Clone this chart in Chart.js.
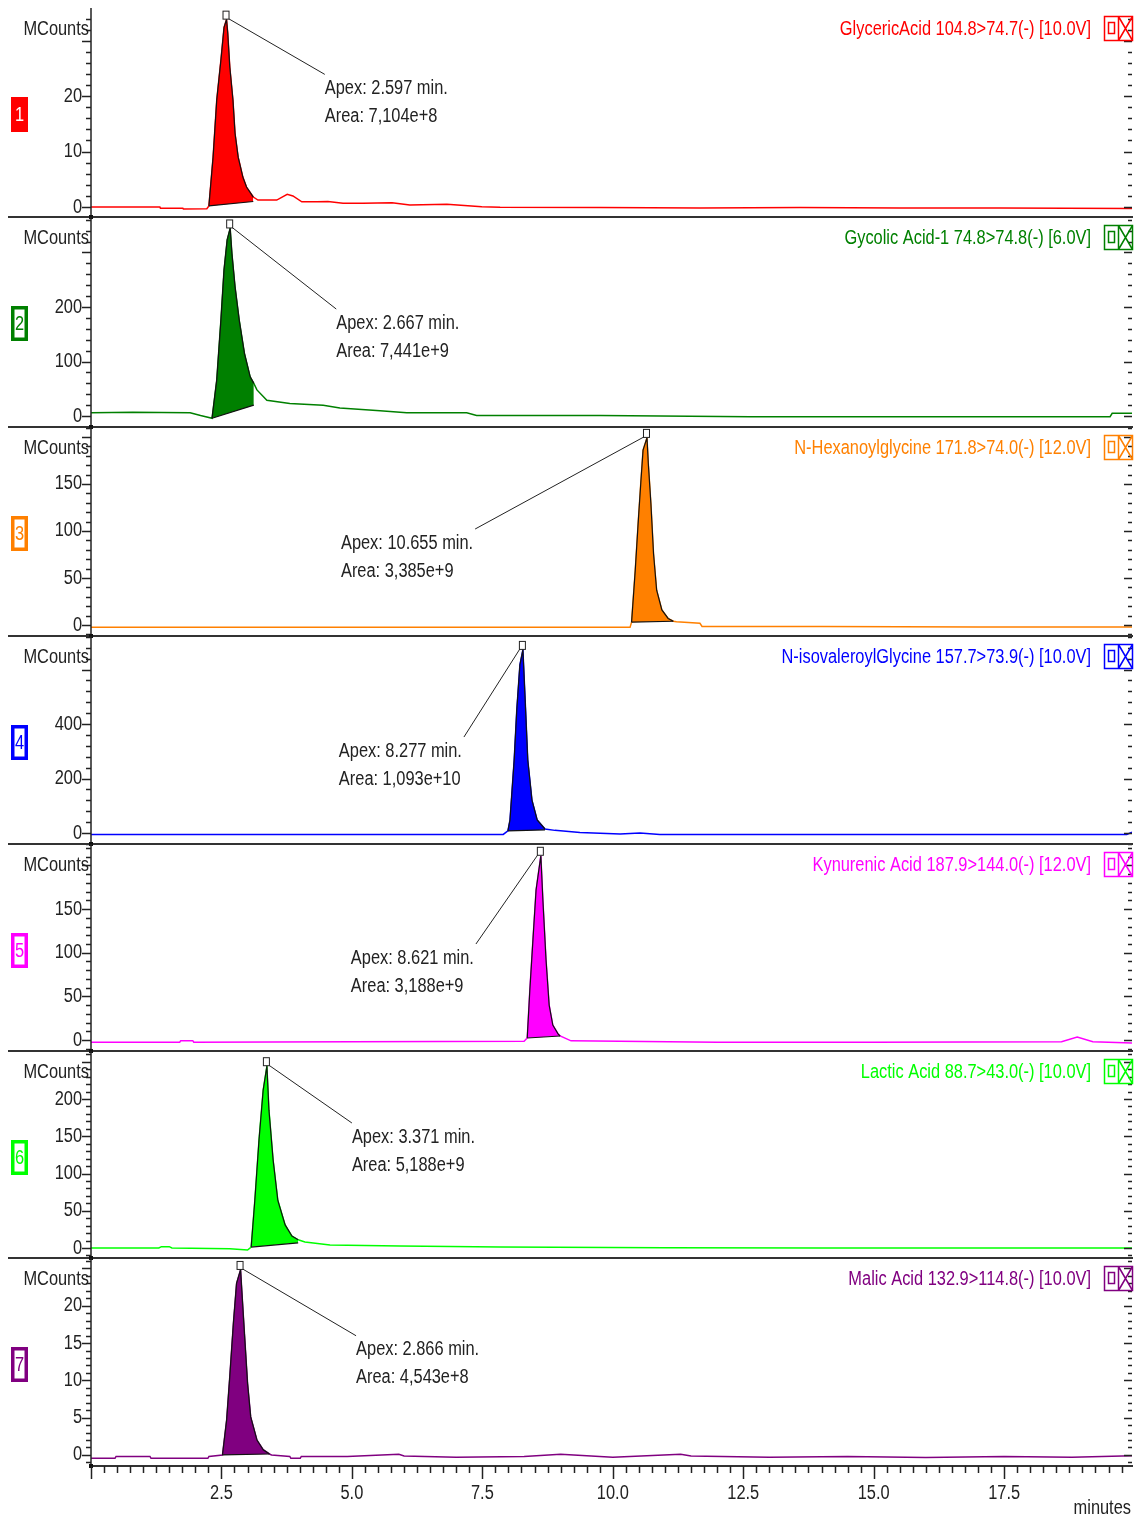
<!DOCTYPE html>
<html>
<head>
<meta charset="utf-8">
<script src="https://cdn.jsdelivr.net/npm/chart.js@4.4.1/dist/chart.umd.min.js"></script>
<style>
  html, body { margin: 0; padding: 0; background: #fff; }
  body { width: 1143px; height: 1517px; position: relative; overflow: hidden; }
  canvas { position: absolute; left: 0; }
</style>
</head>
<body>
<script>
// traces: time (min) / intensity (MCounts)
const glycericT = [0, 1.32, 1.33, 1.76, 1.77, 2.22, 2.26, 2.34, 2.41, 2.49, 2.55, 2.597, 2.62, 2.66, 2.72, 2.76, 2.82, 2.91, 2.98, 3.11, 3.20, 3.56, 3.76, 3.87, 4.04, 4.33, 4.54, 4.83, 5.21, 5.77, 6.11, 6.82, 7.49, 7.84, 9.76, 11.67, 13.59, 15.50, 17.42, 19.95];
const glycericY = [0, 0, -0.2, -0.2, -0.35, -0.3, 0.2, 9.0, 19.3, 26.5, 32.4, 33.8, 31.4, 25.2, 19.3, 13.3, 9.0, 5.4, 3.6, 1.8, 1.26, 1.26, 2.3, 2.0, 0.95, 0.95, 1.0, 0.67, 0.67, 0.75, 0.36, 0.5, 0.05, -0.05, -0.1, -0.18, -0.1, -0.18, -0.18, -0.25];

const glycolicT = [0, 0.8, 1.9, 2.1, 2.32, 2.41, 2.49, 2.55, 2.61, 2.667, 2.70, 2.76, 2.84, 2.94, 3.05, 3.12, 3.18, 3.37, 3.81, 4.45, 4.77, 5.54, 6.05, 7.20, 7.39, 9.76, 12.63, 15.50, 17.42, 19.53, 19.57, 19.95];
const glycolicY = [6, 7, 6, 1, -4, 66, 176, 268, 323, 344, 298, 237, 176, 115, 72, 60, 48, 29, 23, 20, 15, 10, 6, 6, 1, 1, -1, -1, -1, -1, 5, 5];

const hexanoylT = [0, 3.5, 7.0, 10.33, 10.36, 10.43, 10.49, 10.54, 10.58, 10.655, 10.68, 10.73, 10.78, 10.84, 10.94, 11.06, 11.16, 11.22, 11.67, 11.71, 14.0, 17.0, 19.95];
const hexanoylY = [-2.5, -2.5, -2.5, -2.5, 3, 58, 112, 154, 186, 199, 172, 129, 76, 37, 16, 7, 4, 3.5, 1.8, -1.5, -1.5, -2, -2];

const isovalT = [0, 4.0, 7.9, 7.99, 8.03, 8.11, 8.16, 8.22, 8.277, 8.32, 8.37, 8.45, 8.55, 8.70, 8.89, 9.37, 10.14, 10.52, 10.90, 14.0, 17.0, 19.85, 19.95];
const isovalY = [-5, -5, -5, 8, 48, 268, 451, 617, 672, 488, 268, 121, 48, 15, 10, 2, -3, 0, -5, -5, -5, -5, 3];

const kynurT = [0, 1.7, 1.72, 1.95, 1.97, 5.0, 8.3, 8.36, 8.41, 8.47, 8.53, 8.621, 8.66, 8.72, 8.78, 8.85, 8.95, 8.99, 9.2, 12.0, 15.0, 18.6, 18.9, 19.2, 19.95];
const kynurY = [-2.6, -2.6, -0.8, -0.8, -2.6, -2.0, -1.5, 2.3, 57, 115, 172, 211, 160, 92, 40, 17, 7, 4.6, -1, -2.5, -2.5, -2.0, 3.4, -2.0, -3.5];

const lacticT = [0, 1.3, 1.35, 1.5, 1.55, 2.66, 3.0, 3.07, 3.14, 3.22, 3.30, 3.371, 3.41, 3.49, 3.58, 3.72, 3.85, 3.97, 4.10, 4.58, 5.92, 7.84, 11.0, 14.0, 17.0, 19.95];
const lacticY = [0, 0, 1.8, 1.8, 0, -1, -2.7, 1.3, 64, 145, 212, 244, 185, 118, 64, 31, 16, 11, 8, 4, 2.7, 1.5, 0.5, 0, 0, 0];

const malicT = [0, 0.46, 0.48, 1.13, 1.15, 2.24, 2.26, 2.52, 2.60, 2.66, 2.73, 2.79, 2.866, 2.89, 2.94, 3.00, 3.06, 3.18, 3.30, 3.42, 3.46, 3.81, 3.83, 4.01, 4.03, 4.91, 5.9, 6.0, 7.0, 8.3, 9.0, 10.0, 11.3, 11.5, 13.0, 14.5, 16.0, 17.5, 18.8, 19.95];
const malicY = [-0.45, -0.45, -0.2, -0.2, -0.45, -0.45, -0.2, 0, 4.7, 10.5, 17.7, 23, 24.8, 22, 16.3, 9.6, 5.1, 2.0, 0.7, 0.13, 0, -0.2, -0.45, -0.45, -0.2, -0.2, 0.1, -0.15, -0.3, -0.2, 0.1, -0.3, 0.1, -0.15, -0.3, -0.2, -0.35, -0.2, -0.3, -0.1];

const traceTimes = [glycericT, glycolicT, hexanoylT, isovalT, kynurT, lacticT, malicT];
const traceCounts = [glycericY, glycolicY, hexanoylY, isovalY, kynurY, lacticY, malicY];

const compounds = [
  'GlycericAcid 104.8>74.7(-) [10.0V]',
  'Gycolic Acid-1 74.8>74.8(-) [6.0V]',
  'N-Hexanoylglycine 171.8>74.0(-) [12.0V]',
  'N-isovaleroylGlycine 157.7>73.9(-) [10.0V]',
  'Kynurenic Acid 187.9>144.0(-) [12.0V]',
  'Lactic Acid 88.7>43.0(-) [10.0V]',
  'Malic Acid 132.9>114.8(-) [10.0V]'
];
const channelColors = ['#ff0000', '#008000', '#ff8000', '#0000ff', '#ff00ff', '#00ff00', '#800080'];

// integrated peaks
const apexMin = [2.597, 2.667, 10.655, 8.277, 8.621, 3.371, 2.866];
const peakArea = ['7,104e+8', '7,441e+9', '3,385e+9', '1,093e+10', '3,188e+9', '5,188e+9', '4,543e+8'];
const peakFrom = [2.26, 2.32, 10.36, 7.99, 8.36, 3.07, 2.52];
const peakTo = [3.11, 3.12, 11.16, 8.70, 8.99, 3.97, 3.42];
const baseFrom = [0.2, -4, 3, 8, 2.3, 1.3, 0];
const baseTo = [1.0, 20, 4, 12, 4.6, 7, 0.13];

// axes
const yMin = [-1.8, -20, -11.7, -40, -12.6, -13.4, -1.48];
const yMax = [35.9, 365, 210.6, 723, 224.5, 264.4, 26.4];
const yMinor = [2, 20, 10, 40, 10, 10, 1];
const yLabels = [[0, 10, 20], [0, 100, 200], [0, 50, 100, 150], [0, 200, 400], [0, 50, 100, 150], [0, 50, 100, 150, 200], [0, 5, 10, 15, 20]];
const xLabels = [2.5, 5.0, 7.5, 10.0, 12.5, 15.0, 17.5];
const xMinor = 0.25;
const xMax = 19.95;

// page layout
const panelTop = [8, 217, 427, 636, 844, 1051, 1258];
const panelBottom = [217, 427, 636, 844, 1051, 1258, 1466];
const calloutAt = [[4.48, 21.4], [4.70, 170.6], [4.79, 87.2], [4.75, 301], [4.98, 93.9], [5.0, 149], [5.08, 14.1]];

const FONT = '"Liberation Sans Narrow", "Arial Narrow", "Liberation Sans", Arial, sans-serif';
const NARROW = 0.82;   // horizontal squeeze to get the narrow face look
const INK = '#222';

function stepTicks(lo, hi, step) {
  const out = [];
  for (let k = Math.ceil(lo / step - 1e-9); k * step <= hi + 1e-9; k++) out.push({ value: k * step });
  return out;
}

function narrowText(ctx, str, x, y, align) {
  ctx.save();
  ctx.translate(x, y);
  ctx.scale(NARROW, 1);
  ctx.textAlign = align;
  ctx.fillText(str, 0, 0);
  ctx.restore();
}

// draw the axis tick labels squeezed, at the positions the scale computed
function squeezeLabels(scale) {
  if (scale._squeezed) return;
  scale._squeezed = true;
  scale.drawLabels = function (area) {
    const ctx = this.ctx;
    for (const item of this.getLabelItems(area)) {
      if (!item.label) continue;
      const o = item.options;
      ctx.save();
      ctx.translate(o.translation[0], o.translation[1]);
      ctx.scale(NARROW, 1);
      ctx.font = item.font.string;
      ctx.fillStyle = o.color;
      ctx.textAlign = o.textAlign;
      ctx.textBaseline = o.textBaseline;
      ctx.fillText(item.label, 0, item.textOffset);
      ctx.restore();
    }
  };
}

const decor = {
  id: 'decor',
  beforeDraw(chart) {
    Object.values(chart.scales).forEach(squeezeLabels);
  },
  afterDraw(chart, args, opts) {
    const i = opts.panel;
    const last = i === compounds.length - 1;
    const ctx = chart.ctx;
    const { left, right, top, bottom } = chart.chartArea;
    const xs = chart.scales.x, ys = chart.scales.y;
    const color = channelColors[i];
    const majorY = yLabels[i][1] - yLabels[i][0];
    ctx.save();

    // y axis line + ticks on both sides
    ctx.strokeStyle = INK;
    ctx.lineWidth = 1.5;
    ctx.beginPath();
    ctx.moveTo(left, top);
    ctx.lineTo(left, bottom);
    ctx.stroke();
    ys.ticks.forEach(t => {
      const py = Math.round(ys.getPixelForValue(t.value)) + 0.5;
      const major = Math.abs(t.value % majorY) < 1e-9;
      ctx.beginPath();
      ctx.moveTo(left - (major ? 9 : 5), py);
      ctx.lineTo(left, py);
      ctx.moveTo(right - (major ? 8 : 4), py);
      ctx.lineTo(right, py);
      ctx.stroke();
    });

    // panel separator / time axis
    ctx.strokeStyle = '#333';
    ctx.lineWidth = 2;
    ctx.beginPath();
    ctx.moveTo(last ? left : 8, bottom);
    ctx.lineTo(right + 1, bottom);
    ctx.stroke();
    ctx.fillStyle = '#111';
    ctx.fillRect(left - 2, bottom - 2, 4, 4);

    ctx.font = '20px ' + FONT;
    ctx.textBaseline = 'middle';

    if (last) {
      ctx.strokeStyle = INK;
      ctx.lineWidth = 1.5;
      xs.ticks.forEach(t => {
        const px = Math.round(xs.getPixelForValue(t.value)) + 0.5;
        const q = t.value / 2.5;
        const major = Math.abs(q - Math.round(q)) < 1e-9;
        ctx.beginPath();
        ctx.moveTo(px, bottom);
        ctx.lineTo(px, bottom + (major ? 13 : 7));
        ctx.stroke();
      });
      ctx.fillStyle = INK;
      narrowText(ctx, 'minutes', 1131, bottom + 42, 'right');
    }

    // unit label
    ctx.fillStyle = INK;
    narrowText(ctx, 'MCounts', left - 2, top + 21, 'right');

    // channel title
    ctx.fillStyle = color;
    narrowText(ctx, compounds[i], 1091, top + 21, 'right');

    // channel icon
    ctx.strokeStyle = color;
    ctx.lineWidth = 1.5;
    ctx.strokeRect(1104.5, top + 8.5, 28, 24);
    ctx.beginPath();
    ctx.moveTo(1118.5, top + 8.5); ctx.lineTo(1118.5, top + 32.5);
    ctx.moveTo(1118.5, top + 8.5); ctx.lineTo(1132.5, top + 32.5);
    ctx.moveTo(1132.5, top + 8.5); ctx.lineTo(1118.5, top + 32.5);
    ctx.stroke();
    ctx.strokeRect(1108.5, top + 14.5, 6, 11);

    // channel number badge
    const bx = 11, by = top + 89, bw = 17, bh = 35;
    if (i === 0) {
      ctx.fillStyle = color;
      ctx.fillRect(bx, by, bw, bh);
      ctx.fillStyle = '#fff';
    } else {
      ctx.fillStyle = '#fff';
      ctx.fillRect(bx, by, bw, bh);
      ctx.strokeStyle = color;
      ctx.lineWidth = 3.5;
      ctx.strokeRect(bx + 1.75, by + 1.75, bw - 3.5, bh - 3.5);
      ctx.fillStyle = color;
    }
    narrowText(ctx, String(i + 1), bx + bw / 2, by + bh / 2 + 1, 'center');

    // apex marker, leader and callout
    const apexY = Math.max(...traceCounts[i]);
    const ax = xs.getPixelForValue(apexMin[i]);
    const ay = ys.getPixelForValue(apexY);
    const tx = xs.getPixelForValue(calloutAt[i][0]);
    const ty = ys.getPixelForValue(calloutAt[i][1]);
    const line1 = 'Apex: ' + apexMin[i].toFixed(3) + ' min.';
    const line2 = 'Area: ' + peakArea[i];
    const toRight = ax < tx;
    const ex = toRight ? tx : tx + ctx.measureText(line1).width * NARROW + 2;
    ctx.strokeStyle = INK;
    ctx.lineWidth = 1;
    ctx.beginPath();
    ctx.moveTo(toRight ? ax + 2 : ax - 3, ay - 1);
    ctx.lineTo(ex, ty - 14);
    ctx.stroke();
    ctx.fillStyle = '#fff';
    ctx.fillRect(ax - 3.5, ay - 8.5, 6, 8);
    ctx.strokeRect(ax - 3.5, ay - 8.5, 6, 8);
    ctx.fillStyle = INK;
    narrowText(ctx, line1, tx, ty, 'left');
    narrowText(ctx, line2, tx, ty + 28, 'left');

    ctx.restore();
  }
};

compounds.forEach((name, i) => {
  const last = i === compounds.length - 1;
  const canvasTop = panelTop[i] - 12;
  const canvasH = last ? 1517 - canvasTop : panelBottom[i] - panelTop[i] + 24;
  const cv = document.createElement('canvas');
  cv.width = 1143;
  cv.height = canvasH;
  cv.style.top = canvasTop + 'px';
  cv.style.width = '1143px';
  cv.style.height = canvasH + 'px';
  document.body.appendChild(cv);

  const trace = traceTimes[i].map((t, k) => ({ x: t, y: traceCounts[i][k] }));
  const peak = trace.filter(p => p.x >= peakFrom[i] - 1e-9 && p.x <= peakTo[i] + 1e-9);
  const base = [{ x: peakFrom[i], y: baseFrom[i] }, { x: peakTo[i], y: baseTo[i] }];

  new Chart(cv, {
    type: 'line',
    data: {
      datasets: [
        { data: base, borderColor: '#111', borderWidth: 1.2, fill: false, pointRadius: 0 },
        { data: peak, borderColor: '#111', borderWidth: 1.2, backgroundColor: channelColors[i], fill: '-1', pointRadius: 0 },
        { data: trace, borderColor: channelColors[i], borderWidth: 1.5, fill: false, pointRadius: 0 }
      ]
    },
    options: {
      responsive: false,
      animation: false,
      devicePixelRatio: 1,
      events: [],
      layout: { padding: { left: 0, right: 11, top: 12, bottom: last ? 0 : 12 } },
      elements: { line: { tension: 0 } },
      plugins: { legend: { display: false }, tooltip: { enabled: false }, decor: { panel: i } },
      scales: {
        x: {
          type: 'linear',
          min: 0,
          max: xMax,
          display: last,
          afterFit(scale) { if (last) scale.height = 51; },
          afterBuildTicks(scale) { scale.ticks = stepTicks(0, xMax, xMinor); },
          ticks: {
            autoSkip: false,
            maxRotation: 0,
            padding: 2,
            color: INK,
            font: { family: FONT, size: 20 },
            callback: v => xLabels.some(l => Math.abs(l - v) < 1e-9) ? v.toFixed(1) : ''
          },
          grid: { display: true, drawOnChartArea: false, drawTicks: true, tickLength: 13, color: 'rgba(0,0,0,0)' },
          border: { display: false }
        },
        y: {
          type: 'linear',
          min: yMin[i],
          max: yMax[i],
          afterFit(scale) { scale.width = 91; },
          afterBuildTicks(scale) { scale.ticks = stepTicks(yMin[i], yMax[i], yMinor[i]); },
          ticks: {
            autoSkip: false,
            padding: 0,
            color: INK,
            font: { family: FONT, size: 20 },
            callback: v => yLabels[i].includes(v) ? String(v) : ''
          },
          grid: { display: true, drawOnChartArea: false, drawTicks: true, tickLength: 9, color: 'rgba(0,0,0,0)' },
          border: { display: false }
        }
      }
    },
    plugins: [decor]
  });
});
</script>
</body>
</html>
